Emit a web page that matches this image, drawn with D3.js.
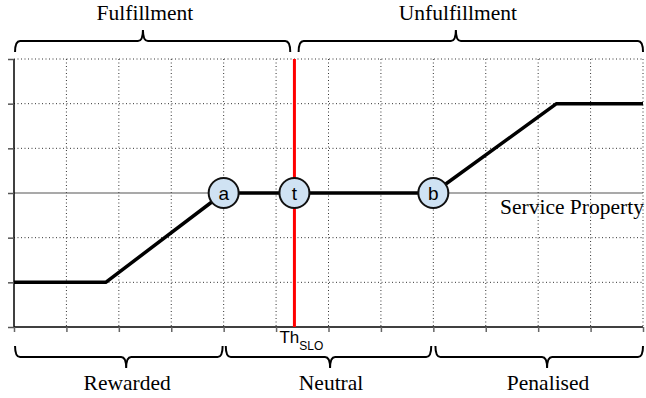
<!DOCTYPE html>
<html>
<head>
<meta charset="utf-8">
<script src="https://cdn.jsdelivr.net/npm/d3@7"></script>
<style>
  body { margin: 0; background: #fff; }
  svg { display: block; }
</style>
</head>
<body>
<svg id="chart" width="646" height="398"></svg>
<script>
// data
const xTicks = d3.range(0, 13);           // 0..12
const yTicks = d3.range(0, 7);            // 0..6
const baseLevel = 3;                      // "Service Property" axis
const curveX = [0, 1.75, 4, 8, 10.35, 12];
const curveY = [1, 1, 3, 3, 5, 5];
const nodeNames = ["a", "t", "b"];
const nodeX = [4, 5.35, 8];
const threshold = 5.35;
const topLabels = ["Fulfillment", "Unfulfillment"];
const topRanges = [[0.02, 5.27], [5.43, 12]];
const topTips = [2.46, 8.43];
const bottomLabels = ["Rewarded", "Neutral", "Penalised"];
const bottomRanges = [[0.02, 3.98], [4.04, 7.96], [8.04, 12]];
const bottomTips = [2.14, 6.03, 10.17];

const serifFont = "'Liberation Serif', 'DejaVu Serif', serif";
const sansFont = "'Liberation Sans', 'DejaVu Sans', sans-serif";

const svg = d3.select("#chart");
const x = d3.scaleLinear().domain([0, 12]).range([14, 643]);
const y = d3.scaleLinear().domain([0, 6]).range([327, 59]);

// grid
svg.append("g").selectAll("line")
    .data(xTicks.slice(1))
    .enter().append("line")
    .attr("x1", d => x(d)).attr("x2", d => x(d))
    .attr("y1", y(6)).attr("y2", y(0))
    .attr("stroke", "#333").attr("stroke-width", 1)
    .attr("stroke-dasharray", "1,2.5");
svg.append("g").selectAll("line")
    .data(yTicks.filter(d => d > 0 && d !== baseLevel))
    .enter().append("line")
    .attr("x1", x(0)).attr("x2", x(12))
    .attr("y1", d => y(d)).attr("y2", d => y(d))
    .attr("stroke", "#333").attr("stroke-width", 1)
    .attr("stroke-dasharray", "1,2.5");

// service property line
svg.append("line")
    .attr("x1", x(0)).attr("x2", x(12))
    .attr("y1", y(baseLevel)).attr("y2", y(baseLevel))
    .attr("stroke", "#555").attr("stroke-width", 1.2);

// axes
const xAxis = d3.axisBottom(x).tickValues(xTicks).tickSize(5).tickFormat("");
const gx = svg.append("g").attr("transform", "translate(0," + y(0) + ")").call(xAxis);
gx.select(".domain").attr("stroke", "#000").attr("stroke-width", 1.5).attr("d", "M" + x(0) + ",0H" + x(12));
gx.selectAll(".tick line").attr("stroke", "#666").attr("stroke-width", 1.5);

const yAxis = d3.axisLeft(y).tickValues(yTicks).tickSize(6).tickFormat("");
const gy = svg.append("g").attr("transform", "translate(" + x(0) + ",0)").call(yAxis);
gy.select(".domain").attr("stroke", "#000").attr("stroke-width", 1.5).attr("d", "M0," + y(6) + "V" + y(0));
gy.selectAll(".tick line").attr("stroke", "#555").attr("stroke-width", 1.5);

// threshold
svg.append("line")
    .attr("x1", x(threshold)).attr("x2", x(threshold))
    .attr("y1", y(6)).attr("y2", y(0))
    .attr("stroke", "#f00").attr("stroke-width", 3);

svg.append("text")
    .style("font-family", sansFont)
    .attr("x", x(threshold) - 15).attr("y", 343)
    .style("font-size", "17px")
    .text("Th")
    .append("tspan")
    .attr("dy", 7).style("font-size", "12px")
    .text("SLO");

// curve
const line = d3.line().x(d => x(d[0])).y(d => y(d[1]));
svg.append("path")
    .datum(d3.zip(curveX, curveY))
    .attr("d", line)
    .attr("fill", "none")
    .attr("stroke", "#000")
    .attr("stroke-width", 3.5)
    .attr("stroke-linejoin", "round");

svg.append("text")
    .style("font-family", serifFont)
    .attr("x", 500).attr("y", 214)
    .style("font-size", "21.5px")
    .text("Service Property");

// nodes
const nodes = svg.append("g").selectAll("g")
    .data(d3.zip(nodeNames, nodeX))
    .enter().append("g")
    .attr("transform", d => "translate(" + x(d[1]) + "," + y(baseLevel) + ")");
nodes.append("circle")
    .attr("r", 15)
    .attr("fill", "#cfe2f3")
    .attr("stroke", "#111")
    .attr("stroke-width", 2);
nodes.append("text")
    .style("font-family", sansFont)
    .attr("text-anchor", "middle")
    .attr("dy", "0.35em")
    .style("font-size", "19px")
    .text(d => d[0]);

// braces
function brace(x1, x2, m, yEnd, yLine, yTip) {
    const r = 5;
    return "M" + x1 + "," + yEnd +
        "Q" + x1 + "," + yLine + " " + (x1 + r) + "," + yLine +
        "L" + (m - r) + "," + yLine +
        "Q" + m + "," + yLine + " " + m + "," + yTip +
        "Q" + m + "," + yLine + " " + (m + r) + "," + yLine +
        "L" + (x2 - r) + "," + yLine +
        "Q" + x2 + "," + yLine + " " + x2 + "," + yEnd;
}

const topG = svg.append("g").selectAll("g")
    .data(d3.zip(topLabels, topRanges, topTips))
    .enter().append("g");
topG.append("path")
    .attr("d", d => brace(x(d[1][0]), x(d[1][1]), x(d[2]), 52, 41, 30))
    .attr("fill", "none").attr("stroke", "#000").attr("stroke-width", 2);
topG.append("text")
    .style("font-family", serifFont)
    .attr("x", d => x(d[2]) + 2)
    .attr("y", 20)
    .attr("text-anchor", "middle")
    .style("font-size", "21.5px")
    .text(d => d[0]);

const botG = svg.append("g").selectAll("g")
    .data(d3.zip(bottomLabels, bottomRanges, bottomTips))
    .enter().append("g");
botG.append("path")
    .attr("d", d => brace(x(d[1][0]), x(d[1][1]), x(d[2]), 346, 357, 368))
    .attr("fill", "none").attr("stroke", "#000").attr("stroke-width", 2);
botG.append("text")
    .style("font-family", serifFont)
    .attr("x", d => x(d[2]) + 1)
    .attr("y", 390)
    .attr("text-anchor", "middle")
    .style("font-size", "21.5px")
    .text(d => d[0]);
</script>
</body>
</html>
